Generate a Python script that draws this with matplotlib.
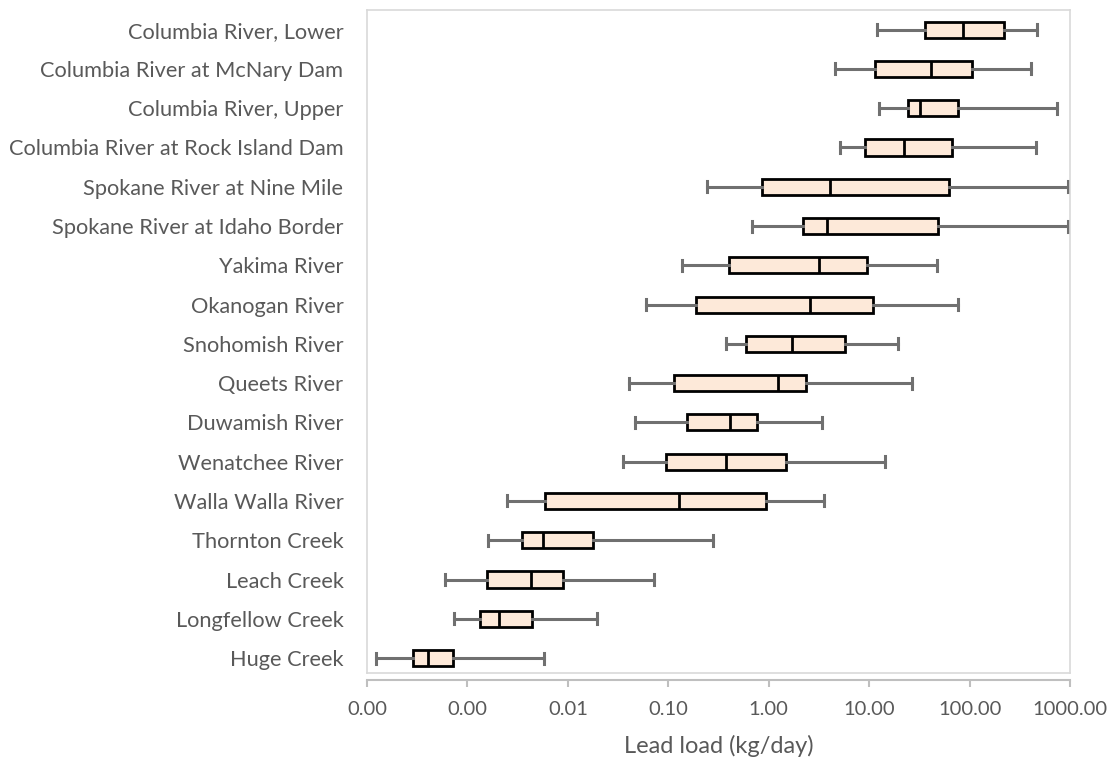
import numpy as np
import matplotlib.pyplot as plt
from matplotlib.ticker import FixedLocator, FuncFormatter, NullLocator

# lead load summary per site (kg/day), top to bottom as in the chart
sites = [
    "Columbia River, Lower",
    "Columbia River at McNary Dam",
    "Columbia River, Upper",
    "Columbia River at Rock Island Dam",
    "Spokane River at Nine Mile",
    "Spokane River at Idaho Border",
    "Yakima River",
    "Okanogan River",
    "Snohomish River",
    "Queets River",
    "Duwamish River",
    "Wenatchee River",
    "Walla Walla River",
    "Thornton Creek",
    "Leach Creek",
    "Longfellow Creek",
    "Huge Creek",
]
whislo = [12.1, 4.6, 12.6, 5.1, 0.243, 0.684, 0.137, 0.0596, 0.379, 0.0408,
          0.0471, 0.0353, 0.00247, 0.00162, 0.000597, 0.000736, 0.000122]
q1 = [35.8, 11.5, 24.5, 9.1, 0.86, 2.2, 0.401, 0.187, 0.591, 0.113,
      0.153, 0.0948, 0.00586, 0.00348, 0.00157, 0.00134, 0.000287]
med = [86.9, 41.5, 32.2, 22.3, 4.09, 3.82, 3.16, 2.55, 1.69, 1.24,
       0.415, 0.379, 0.128, 0.00561, 0.00425, 0.00207, 0.000405]
q3 = [218, 106, 76.9, 67.1, 62.7, 48.7, 9.46, 11.0, 5.81, 2.34,
      0.763, 1.50, 0.942, 0.0180, 0.00903, 0.00444, 0.00072]
whishi = [469, 411, 746, 460, 960, 960, 47.8, 76.2, 19.2, 26.5,
          3.41, 14.3, 3.52, 0.281, 0.0718, 0.0196, 0.0058]
xticks = [1e-4, 1e-3, 1e-2, 1e-1, 1, 10, 100, 1000]

stats = []
for i in range(len(sites)):
    stats.append(dict(label=sites[i], whislo=whislo[i], q1=q1[i], med=med[i],
                      q3=q3[i], whishi=whishi[i]))

plt.rcParams['font.family'] = ['Lato', 'DejaVu Sans']
txt = '#595959'

fig = plt.figure(figsize=(11.13, 7.64), dpi=100)
ax = fig.add_axes([367/1113, 1-673/764, 703/1113, 663/764])

ax.bxp(stats, positions=range(len(sites)), orientation='horizontal',
       widths=0.41, capwidths=0.28, patch_artist=True, showfliers=False,
       boxprops=dict(facecolor='#FDE9D9', edgecolor='black', linewidth=2),
       medianprops=dict(color='black', linewidth=2),
       whiskerprops=dict(color='#707070', linewidth=2.2),
       capprops=dict(color='#707070', linewidth=2.2))

ax.set_xscale('log')
ax.set_xlim(1e-4, 1e3)
ax.set_ylim(16.38, -0.5)
ax.xaxis.set_major_locator(FixedLocator(xticks))
ax.xaxis.set_minor_locator(NullLocator())
ax.xaxis.set_major_formatter(FuncFormatter(lambda v, p: f"{v:.2f}"))

ax.tick_params(axis='y', length=0, pad=17, labelsize=15.7, labelcolor=txt)
ax.tick_params(axis='x', length=5, width=1.5, color='#BFBFBF', pad=10,
               labelsize=14.5, labelcolor=txt)

for s in ['left', 'top', 'right', 'bottom']:
    ax.spines[s].set_color('#D9D9D9')
    ax.spines[s].set_linewidth(1.2)
ax.spines['bottom'].set_position(('outward', 5))
ax.spines['bottom'].set_color('#BFBFBF')
ax.spines['bottom'].set_linewidth(1.5)
# plot area border at the bottom
ax.plot([0, 1], [0, 0], transform=ax.transAxes, color='#D9D9D9', lw=1.2,
        clip_on=False)

ax.set_xlabel('Lead load (kg/day)', fontsize=17, color=txt, labelpad=12)

fig.savefig('out.png', dpi=100)
